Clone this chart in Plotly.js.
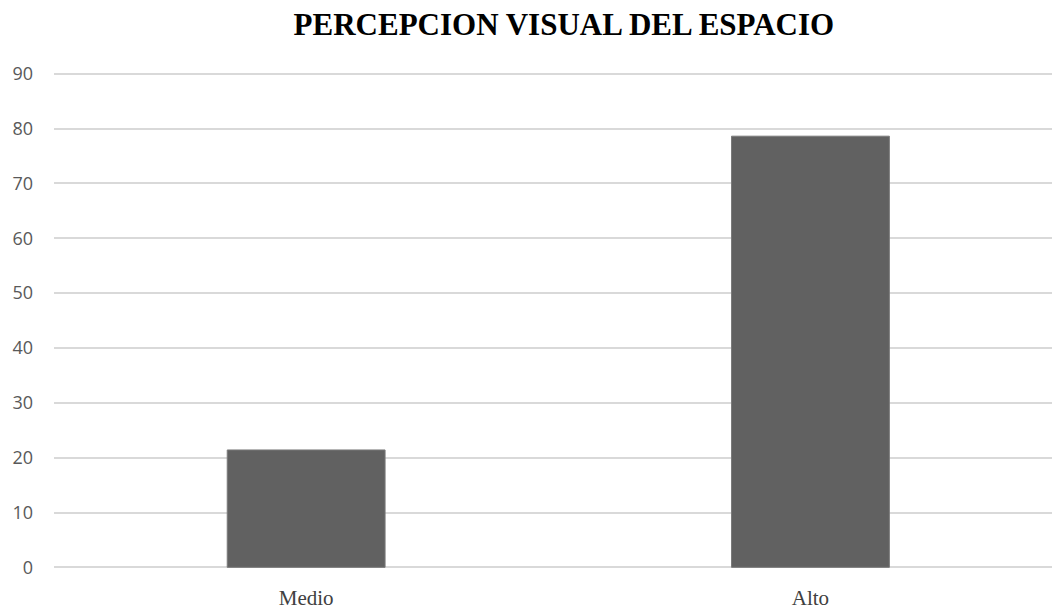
<!DOCTYPE html>
<html>
<head>
<meta charset="utf-8">
<script src="https://cdn.plot.ly/plotly-3.0.1.min.js"></script>
<style>html,body{margin:0;padding:0;background:#fff;}#chart{width:1052px;height:609px;}</style>
</head>
<body>
<div id="chart"></div>
<script>
const categories = ["Medio", "Alto"];
const values = [21.4, 78.6];
const yTicks = [0, 10, 20, 30, 40, 50, 60, 70, 80, 90];
const chartTitle = "PERCEPCION VISUAL DEL ESPACIO";

const trace = {
  type: "bar",
  x: categories,
  y: values,
  marker: { color: "#616161", line: { color: "#7a7a7a", width: 1 } },
  hoverinfo: "x+y"
};

const layout = {
  width: 1052,
  height: 609,
  margin: { l: 54, r: 0, t: 72, b: 40, pad: 0 },
  paper_bgcolor: "#ffffff",
  plot_bgcolor: "#ffffff",
  bargap: 0.687,
  showlegend: false,
  title: {
    text: "<b>" + chartTitle + "</b>",
    font: { family: "Liberation Serif, Times New Roman, serif", size: 31, color: "#000000" },
    x: 0.536, xanchor: "center",
    y: 0.96, yanchor: "middle"
  },
  xaxis: {
    type: "category",
    range: [-0.5, 1.479],
    showgrid: false,
    zeroline: false,
    showline: false,
    ticks: "",
    ticklabelstandoff: 14,
    tickfont: { family: "Liberation Serif, Times New Roman, serif", size: 21, color: "#404040" }
  },
  yaxis: {
    range: [-0.3, 90.3],
    tickvals: yTicks,
    ticktext: yTicks.map(String),
    showgrid: true,
    gridcolor: "#d9d9d9",
    gridwidth: 2,
    zeroline: false,
    showline: false,
    ticks: "",
    ticklabelstandoff: 20,
    tickfont: { family: "Open Sans, Noto Sans, sans-serif", size: 18, color: "#595959" }
  }
};

Plotly.newPlot("chart", [trace], layout, { displayModeBar: false, staticPlot: true });
</script>
</body>
</html>
